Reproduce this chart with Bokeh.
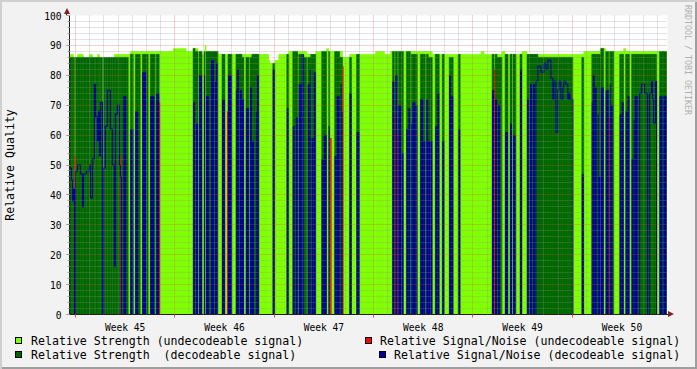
import numpy as np
from bokeh.plotting import figure
from bokeh.models import (Range1d, FixedTicker, SingleIntervalTicker, Grid, Div)
from bokeh.layouts import column
from bokeh.embed import file_html
from bokeh.resources import INLINE

N = float("nan")

# ---------------------------------------------------------------- data
# One consolidated RRD row every ROW_HOURS hours; row 0 lies FIRST_ROW_H hours
# from Monday 00:00 of week 45. Values are run-length encoded: a run starts at
# row_start[i] and lasts until the next run (or LAST_ROW).
FIRST_ROW_H = -10.0
ROW_HOURS = 1.685
N_ROWS = 600
LAST_ROW = 599
WEEKS = [45, 46, 47, 48, 49, 50]

row_start = [
    0, 2, 3, 4, 5, 6, 8, 11, 13, 14, 17, 20, 21, 23, 25, 26, 28, 29, 30, 31,
    33, 34, 36, 38, 41, 43, 45, 46, 48, 50, 51, 52, 54, 57, 59, 61, 64, 66, 69, 71,
    73, 77, 79, 81, 85, 86, 87, 90, 91, 104, 117, 124, 126, 127, 129, 130, 133, 135, 136, 137,
    140, 142, 145, 146, 147, 149, 153, 156, 158, 159, 163, 167, 168, 170, 171, 173, 175, 177, 180, 181,
    183, 185, 187, 188, 190, 200, 201, 204, 206, 210, 218, 220, 224, 226, 227, 229, 230, 233, 235, 238,
    239, 241, 242, 243, 245, 247, 253, 255, 258, 260, 261, 263, 266, 268, 271, 272, 273, 274, 275, 281,
    283, 288, 291, 307, 316, 322, 324, 326, 327, 329, 330, 333, 335, 338, 340, 342, 343, 344, 347, 349,
    352, 355, 357, 358, 360, 364, 367, 369, 371, 374, 376, 381, 383, 385, 390, 392, 413, 416, 424, 426,
    427, 429, 430, 432, 434, 437, 440, 442, 444, 445, 448, 452, 454, 459, 461, 462, 464, 465, 467, 468,
    470, 473, 476, 478, 480, 483, 485, 486, 488, 490, 491, 493, 495, 496, 498, 500, 501, 502, 505, 514,
    516, 524, 525, 527, 529, 530, 531, 533, 536, 538, 541, 542, 543, 545, 546, 552, 554, 556, 558, 560,
    562, 564, 566, 567, 570, 572, 574, 577, 580, 582, 584, 585, 586, 588, 589, 592, 595, 596,
]
# Relative Strength (undecodeable signal)
strength_undec = [
    87, 87, 87, N, 86, N, 87, 87, 87, N, N, 87, 87, N, N, N, 87, 87, N, N,
    86, N, N, N, N, N, 87, 87, 87, 87, 87, 87, 87, 87, 87, 88, 88, 88, 88, 88,
    88, 88, 88, 88, 88, 88, 88, 88, 88, 89, 88, 89, 89, 89, 87, 88, 87, 88, 90, 88,
    88, 88, 88, 88, 88, 87, 87, 87, 87, 87, 87, 87, 87, 87, 87, 87, 87, 87, 87, 87,
    87, 87, 87, 87, 87, 85, 84, 84, 85, 87, 87, 88, 88, 88, 88, 87, 88, 88, 88, 87,
    87, 87, 87, 87, 87, 88, 88, 88, 89, 88, 88, 88, 88, 88, 88, 88, 88, 86, 86, 87,
    87, 87, 87, 88, 87, 88, 88, 88, 88, 88, 88, 88, 88, 88, 88, 88, 88, 88, 88, 88,
    88, 88, 88, 88, 88, 87, 87, 87, 87, 87, 87, 87, 87, 87, 87, 87, 88, 87, 87, 87,
    87, 87, 87, 87, 88, 87, 87, 87, 87, 87, 87, 87, 88, 87, 87, 87, 87, 87, 87, 87,
    87, 87, 87, 87, 87, 87, 87, 87, 87, 87, 87, 87, 87, 87, 87, 87, 87, 87, 87, 87,
    88, 88, 88, 88, 88, 88, 88, 89, 89, 88, 88, 88, 88, 88, 88, 88, 88, 89, 88, 88,
    88, 88, 88, 88, 88, 88, 88, 88, 88, 88, 88, 88, 88, 88, 88, 88, 88, 88,
]
# Relative Strength (decodeable signal)
strength_dec = [
    86, 86, 86, 86, N, 86, 86, 86, 86, 86, 86, 86, 86, 86, 86, 86, 86, 86, 86, 86,
    N, 86, 86, 86, 86, 86, 86, 86, 86, 86, 86, 86, 86, 86, N, 87, N, 87, 87, N,
    87, 87, N, 87, 87, N, 87, N, N, N, N, 89, 88, 88, N, 88, N, 88, N, 88,
    88, 88, 88, 88, 88, N, 87, N, N, 87, N, 87, 87, 87, 87, 86, N, 86, N, 86,
    87, 87, 87, 87, N, N, N, 84, N, N, 87, N, 88, 88, 88, N, 87, 87, 86, N,
    86, 86, 87, 87, 87, N, 88, 88, N, 88, N, N, 88, 88, 86, 86, 86, N, N, 86,
    N, 87, N, N, N, N, 88, N, 88, N, 88, 88, N, 88, 88, N, 87, 87, 87, N,
    87, 87, N, 87, 86, N, 87, 87, N, 87, N, 86, 86, N, 87, N, N, N, 87, N,
    87, 86, 86, 86, N, 87, N, 87, N, 87, N, 87, N, 87, 87, 87, 87, 87, 87, 87,
    86, 86, 86, 86, 86, 86, 86, 86, 86, 86, 86, 86, 86, 86, 86, 86, 86, 86, N, 86,
    N, 87, 87, 87, 87, 87, 87, 89, N, 88, N, 88, 88, 88, N, 87, 87, N, 87, 87,
    N, 87, 87, 87, 87, 87, 87, 87, 87, 87, 87, 87, 87, 87, N, 88, 88, 88,
]
# Relative Signal/Noise (decodeable signal)
snr_dec = [
    49, 45, 38, 42, 0, 48, 50, 47, 36, 47, 48, 50, 39, 52, 77, 66, 58, 68, 53, 71,
    0, 49, 63, 75, 62, 50, 16, 67, 70, 50, 46, 0, 73, 0, 0, 62, 0, 68, 0, 0,
    81, 0, 0, 73, 0, 0, 74, 0, 0, 0, 0, 71, 0, 64, 0, 80, 0, 80, 0, 73,
    0, 85, 0, 78, 84, 0, 72, 0, 0, 80, 0, 75, 82, 0, 75, 72, 0, 69, 0, 76,
    58, 0, 68, 80, 0, 0, 0, 82, 0, 0, 69, 0, 63, 0, 66, 0, 77, 87, 0, 0,
    77, 82, 0, 59, 81, 0, 52, 60, 0, 63, 0, 0, 53, 73, 0, 77, 68, 0, 0, 74,
    0, 61, 0, 0, 0, 0, 78, 0, 80, 0, 70, 54, 0, 62, 69, 0, 64, 71, 70, 0,
    72, 58, 0, 72, 58, 0, 63, 74, 0, 58, 0, 80, 73, 0, 62, 0, 0, 0, 75, 0,
    72, 0, 70, 0, 0, 61, 0, 64, 0, 60, 0, 82, 0, 72, 0, 77, 0, 77, 0, 78,
    83, 81, 84, 82, 85, 79, 72, 78, 61, 75, 78, 72, 76, 78, 77, 72, 74, 72, 0, 47,
    0, 71, 80, 76, 0, 67, 46, 76, 0, 75, 0, 77, 70, 0, 0, 67, 71, 0, 68, 73,
    0, 52, 65, 73, 0, 74, 77, 74, 0, 74, 78, 72, 64, 78, 0, 73, 0, 73,
]
# Relative Signal/Noise (undecodeable signal): zero except for these runs
snr_undec_runs = [5, 51, 90, 158, 261, 274, 326, 329, 426, 541]
snr_undec_vals = [53, 53, 71, 68, 59, 83, 67, 60, 82, 66]

legend_labels = ["Relative Strength (undecodeable signal)",
                 "Relative Signal/Noise (undecodeable signal)",
                 "Relative Strength  (decodeable signal)",
                 "Relative Signal/Noise (decodeable signal)"]
watermark = "RRDTOOL / TOBI OETIKER"

# ---------------------------------------------------------------- style
LIGHT = "#80FF00"
DARK = "#006600"
BLUE = "#000099"
RED = "#FF0000"
BG = "#F2F2F2"
AXIS = "#1F1F1F"
ARROW = "#801F1F"
MONO = "DejaVu Sans Mono"
legend_colors = [LIGHT, RED, DARK, BLUE]

rs = np.array(row_start + [LAST_ROW], dtype=float)
x_left = FIRST_ROW_H + rs[:-1] * ROW_HOURS
x_right = FIRST_ROW_H + rs[1:] * ROW_HOURS
su = np.array(strength_undec, float)
sd = np.array(strength_dec, float)
nd = np.array(snr_dec, float)
nu = np.zeros(len(row_start))
for r, v in zip(snr_undec_runs, snr_undec_vals):
    nu[row_start.index(r)] = v

p = figure(width=697, height=335, title=None,
           x_range=Range1d(FIRST_ROW_H, FIRST_ROW_H + N_ROWS * ROW_HOURS),
           y_range=Range1d(0, 100),
           toolbar_location=None, output_backend="svg",
           min_border_left=67, min_border_right=30, min_border_top=15, min_border_bottom=20)
p.background_fill_color = "white"
p.border_fill_alpha = 0
p.outline_line_color = None
p.xgrid.visible = False
p.ygrid.visible = False

m = ~np.isnan(su)
p.quad(left=x_left[m], right=x_right[m], bottom=0, top=su[m],
       fill_color=LIGHT, line_color=LIGHT, line_width=0.5)
m = ~np.isnan(sd)
p.quad(left=x_left[m], right=x_right[m], bottom=0, top=sd[m],
       fill_color=DARK, line_color=DARK, line_width=0.5)


def runs(vals):
    out = []
    i = 0
    while i < len(vals):
        if vals[i] > 0:
            j = i
            while j < len(vals) and vals[j] > 0:
                j += 1
            out.append((i, j))
            i = j
        else:
            i += 1
    return out


def snr_marks(vals, color, max_rows=6):
    fill = np.zeros(len(vals), bool)
    xs, ys = [], []
    for i, j in runs(vals):
        if rs[j] - rs[i] <= max_rows and rs[i] > 0:
            fill[i:j] = True
        else:
            lx = [x_left[i]]
            ly = [0.0]
            for k in range(i, j):
                lx += [x_left[k], x_right[k]]
                ly += [vals[k], vals[k]]
            if rs[j] < LAST_ROW:
                lx.append(x_right[j - 1])
                ly.append(0.0)
            xs.append(lx)
            ys.append(ly)
    p.quad(left=x_left[fill], right=x_right[fill], bottom=0, top=vals[fill],
           fill_color=color, line_color=None)
    if xs:
        p.multi_line(xs, ys, line_color=color, line_width=1.1)


snr_marks(nu, RED)
snr_marks(nd, BLUE)

# grids (drawn over the data, dotted)
days = [24 * d for d in range(1, 42) if d % 7]
week_starts = [168 * w for w in range(6)]
minor_y = [v for v in range(2, 100, 2) if v % 10]
major_y = list(range(10, 101, 10))
for dim, ticks, col, alpha in [(0, days, "#8F8F8F", 0.5), (1, minor_y, "#8F8F8F", 0.5),
                               (0, week_starts, "#DE4F4F", 0.5), (1, major_y, "#DE4F4F", 0.5)]:
    p.add_layout(Grid(dimension=dim, ticker=FixedTicker(ticks=ticks), grid_line_color=col,
                      grid_line_alpha=alpha, grid_line_dash="1 1", level="overlay"))

xa = p.xaxis[0]
centers = [84 + 168 * i for i in range(len(WEEKS))]
xa.ticker = FixedTicker(ticks=centers, minor_ticks=week_starts)
xa.major_label_overrides = {c: f"Week {w}" for c, w in zip(centers, WEEKS)}
xa.major_tick_line_color = None
xa.major_tick_out = 0
xa.major_tick_in = 0
xa.minor_tick_line_color = "#DE4F4F"
xa.minor_tick_out = 3
xa.minor_tick_in = 0
xa.major_label_standoff = 4
xa.major_label_text_font = MONO
xa.major_label_text_font_size = "9.6px"
xa.major_label_text_color = "black"
xa.axis_line_color = AXIS

ya = p.yaxis[0]
ya.ticker = SingleIntervalTicker(interval=10, num_minor_ticks=5)
ya.major_tick_out = 3
ya.major_tick_in = 0
ya.major_tick_line_color = "#7F7F7F"
ya.minor_tick_out = 2
ya.minor_tick_in = 0
ya.minor_tick_line_color = "#A8A8A8"
ya.major_label_standoff = 5
ya.major_label_text_font = MONO
ya.major_label_text_font_size = "9.6px"
ya.major_label_text_color = "black"
ya.axis_line_color = AXIS
ya.axis_label = "Relative Quality"
ya.axis_label_text_font = MONO
ya.axis_label_text_font_size = "11.6px"
ya.axis_label_text_font_style = "normal"
ya.axis_label_text_color = "black"
ya.axis_label_standoff = 24

# ---------------------------------------------------------------- legend + decorations
sw_left = [15, 365, 15, 379]
sw_top = [2, 2, 16, 16]
tx_left = [31, 380, 31, 394]
tx_top = [0, 0, 14, 14]
items = []
for lab, col, sl, st, tl, tt in zip(legend_labels, legend_colors, sw_left, sw_top, tx_left, tx_top):
    items.append(
        f'<div style="position:absolute;left:{sl}px;top:{st}px;width:7px;height:7px;'
        f'background:{col};border:1px solid black"></div>'
        f'<div style="position:absolute;left:{tl}px;top:{tt}px;line-height:13px;'
        f'white-space:pre">{lab}</div>')
# axis arrow heads and the vertical watermark (overlaid on the plot above)
items.append(f'<div style="position:absolute;left:66px;top:-322px;width:1px;height:2px;background:{AXIS}"></div>')
items.append('<div style="position:absolute;left:64px;top:-327px;width:0;height:0;'
             'border-left:3px solid transparent;border-right:3px solid transparent;'
             f'border-bottom:6px solid {ARROW}"></div>')
items.append(f'<div style="position:absolute;left:667px;top:-21px;width:2px;height:1px;background:{AXIS}"></div>')
items.append('<div style="position:absolute;left:668px;top:-24px;width:0;height:0;'
             'border-top:3px solid transparent;border-bottom:3px solid transparent;'
             f'border-left:6px solid {ARROW}"></div>')
items.append('<div style="position:absolute;left:683px;top:-330px;writing-mode:vertical-rl;'
             f'font-size:8.3px;line-height:9px;color:#AFAFAF;white-space:pre">{watermark}</div>')
legend_html = ('<div style="position:relative;width:697px;height:34px;overflow:visible;'
               f"font-family:'{MONO}';font-size:11.6px;color:black\">" + "".join(items) + "</div>")
leg = Div(text=legend_html, width=697, height=34, margin=0, styles={"overflow": "visible"})

layout = column(p, leg, styles={"background-color": BG,
                                "box-shadow": "inset 2px 2px 0 #CFCFCF, inset -2px -2px 0 #9E9E9E"})

open("out.html", "w").write(file_html(layout, INLINE))
